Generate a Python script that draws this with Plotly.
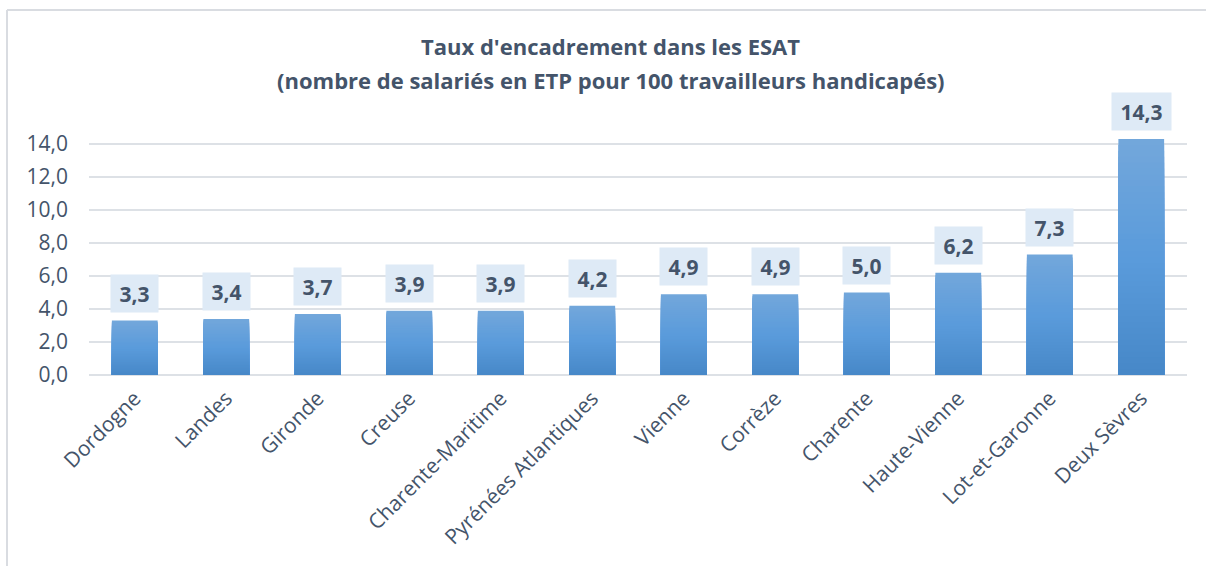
import plotly.graph_objects as go

categories = ["Dordogne", "Landes", "Gironde", "Creuse", "Charente-Maritime",
              "Pyrénées Atlantiques", "Vienne", "Corrèze", "Charente",
              "Haute-Vienne", "Lot-et-Garonne", "Deux Sèvres"]
values = [3.3, 3.4, 3.7, 3.9, 3.9, 4.2, 4.9, 4.9, 5.0, 6.2, 7.3, 14.3]
y_ticks = [0, 2, 4, 6, 8, 10, 12, 14]
title_lines = ["Taux d'encadrement dans les ESAT",
               "(nombre de salariés en ETP pour 100 travailleurs handicapés)"]

TEXT = "#44546A"
GRID = "#DDE1E6"
FONT = "Open Sans"


def hex2rgb(h):
    h = h.lstrip("#")
    return [int(h[i:i + 2], 16) for i in (0, 2, 4)]


stops = [(0.0, hex2rgb("#73A7DB")), (0.5, hex2rgb("#5A9BDB")), (1.0, hex2rgb("#4788C8"))]


def color_at(t):
    for (t0, c0), (t1, c1) in zip(stops[:-1], stops[1:]):
        if t0 <= t <= t1:
            f = (t - t0) / (t1 - t0) if t1 > t0 else 0
            c = [round(a + (b - a) * f) for a, b in zip(c0, c1)]
            return "rgb(%d,%d,%d)" % tuple(c)
    return "rgb(%d,%d,%d)" % tuple(stops[-1][1])


fig = go.Figure()
N = 40
for k in range(N):
    frac = 1 - k / N
    fig.add_trace(go.Bar(
        x=categories, y=[v * frac for v in values],
        marker=dict(color=color_at((k + 0.5) / N), line=dict(width=0)),
        hoverinfo="skip", showlegend=False,
    ))

annotations = []
for c, v in zip(categories, values):
    label = ("%.1f" % v).replace(".", ",")
    annotations.append(dict(
        x=c, y=v, xref="x", yref="y", yanchor="bottom", yshift=8,
        text=label, showarrow=False,
        font=dict(family=FONT, size=21, color=TEXT, weight="bold"),
        bgcolor="#DEEAF6", borderpad=5, width=12 * len(label) + 1, height=27,
    ))
for line, ypos in zip(title_lines, [1.246, 1.117]):
    annotations.append(dict(
        x=0.475, y=ypos, xref="paper", yref="paper", xanchor="center", yanchor="middle",
        text="<b>%s</b>" % line, showarrow=False,
        font=dict(family=FONT, size=22, color=TEXT),
    ))

px_l, px_top = 7, 10
plot_l, plot_r, plot_t, plot_b = 89, 1187, 111, 375
xl = (px_l - plot_l) / (plot_r - plot_l)
yt = (plot_b - px_top) / (plot_b - plot_t)
shapes = [
    dict(type="line", xref="paper", yref="paper", x0=xl, x1=1.2, y0=yt, y1=yt,
         line=dict(color="#D9DCE1", width=2)),
    dict(type="line", xref="paper", yref="paper", x0=xl, x1=xl, y0=yt, y1=-1.2,
         line=dict(color="#D9DCE1", width=2)),
]

fig.update_layout(
    width=1206, height=566,
    margin=dict(l=plot_l, r=1206 - plot_r, t=plot_t, b=566 - plot_b),
    paper_bgcolor="white", plot_bgcolor="white",
    barmode="overlay", bargap=0.5,
    separators=", ",
    font=dict(family=FONT, color=TEXT, size=21),
    annotations=annotations, shapes=shapes,
    xaxis=dict(tickangle=-45, tickfont=dict(size=21, color=TEXT), showgrid=False,
               showline=False, ticks="", ticklabelstandoff=6),
    yaxis=dict(range=[0, 16], tickvals=y_ticks, tickformat=".1f",
               tickfont=dict(size=21, color=TEXT), showgrid=True, gridcolor=GRID,
               gridwidth=1.5, zeroline=True, zerolinecolor=GRID, zerolinewidth=1.5,
               showline=False, ticks="", ticklabelstandoff=20),
)

fig.write_html("out.html", config={"displayModeBar": False},
               post_script="document.body.style.margin='0';")
